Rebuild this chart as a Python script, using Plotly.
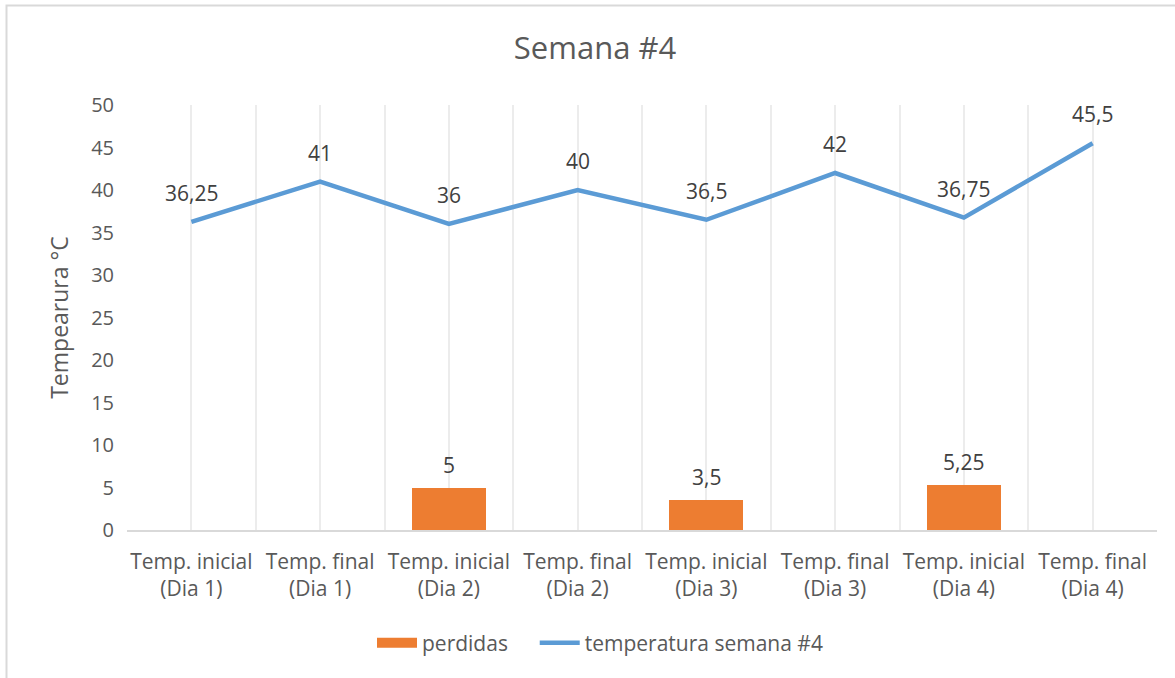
import plotly.graph_objects as go

# ── Data ──────────────────────────────────────────────────────────────────────
categories = [
    "Temp. inicial<br>(Dia 1)", "Temp. final<br>(Dia 1)",
    "Temp. inicial<br>(Dia 2)", "Temp. final<br>(Dia 2)",
    "Temp. inicial<br>(Dia 3)", "Temp. final<br>(Dia 3)",
    "Temp. inicial<br>(Dia 4)", "Temp. final<br>(Dia 4)",
]
temperatura = [36.25, 41, 36, 40, 36.5, 42, 36.75, 45.5]
perdidas = [None, None, 5, None, 3.5, None, 5.25, None]
y_ticks = [0, 5, 10, 15, 20, 25, 30, 35, 40, 45, 50]

# ── Style ─────────────────────────────────────────────────────────────────────
FONT = "'Open Sans', sans-serif"
TXT = "#595959"
LBL = "#404040"
GRID = "#ececec"
ORANGE = "#ED7D31"
BLUE = "#5B9BD5"

W, H = 1175, 678
ML, MR, MT, MB = 127, 18, 105, 148
pw, ph = W - ML - MR, H - MT - MB


def fmt(v):
    return f"{v:g}".replace(".", ",")


xs = list(range(len(categories)))

fig = go.Figure()
fig.add_trace(go.Bar(
    x=xs, y=perdidas, name="perdidas",
    marker=dict(color=ORANGE, line=dict(width=0)),
    width=0.575, showlegend=False,
))
# legend proxy so the key is a wide block like Excel's
fig.add_trace(go.Scatter(
    x=[None], y=[None], name="perdidas" + "\u00a0" * 4, mode="lines",
    line=dict(color=ORANGE, width=14),
))
fig.add_trace(go.Scatter(
    x=xs, y=temperatura, name="temperatura semana #4",
    mode="lines",
    line=dict(color=BLUE, width=4.5),
))

# data labels (Excel-style, above each point)
for x, v in zip(xs, temperatura):
    fig.add_annotation(x=x, y=v, text=fmt(v), showarrow=False,
                       yshift=29, font=dict(size=21, color=LBL, family=FONT))
for x, v in zip(xs, perdidas):
    if v is None:
        continue
    fig.add_annotation(x=x, y=v, text=fmt(v), showarrow=False,
                       yshift=23, font=dict(size=21, color=LBL, family=FONT))

# chart border
fig.add_shape(type="rect", xref="paper", yref="paper",
              x0=(6.5 - ML) / pw, x1=(W + 5 - ML) / pw,
              y0=(H - MB - (H + 5)) / ph, y1=(H - MB - 5.5) / ph,
              line=dict(color="#d9d9d9", width=2), layer="below")

fig.update_layout(
    width=W, height=H,
    margin=dict(l=ML, r=MR, t=MT, b=MB),
    paper_bgcolor="white", plot_bgcolor="white",
    font=dict(family=FONT, color=TXT, size=21),
    title=dict(text="Semana #4", x=595 / W, xanchor="center",
               y=1 - 48 / H, yanchor="middle",
               font=dict(size=31, color=TXT, family=FONT)),
    showlegend=True,
    legend=dict(orientation="h", x=(600 - ML) / pw, xanchor="center",
                y=-(643 - 530) / ph, yanchor="middle",
                font=dict(size=21, color=TXT), itemwidth=40,
                traceorder="normal"),
    bargap=0,
)
fig.update_xaxes(
    range=[-0.5, len(categories) - 0.5],
    tickvals=xs, ticktext=categories,
    showgrid=True, gridcolor=GRID, gridwidth=1.5,
    minor=dict(tick0=0.5, dtick=1, showgrid=True, gridcolor=GRID, gridwidth=1.5),
    showline=True, linecolor="#d9d9d9", linewidth=1.5,
    ticks="", tickfont=dict(size=21, color=TXT), zeroline=False,
    ticklabelstandoff=12, automargin=False,
)
fig.update_yaxes(
    range=[0, 50], tickvals=y_ticks,
    showgrid=False, zeroline=False, showline=False, ticks="",
    tickfont=dict(size=20, color=TXT), ticklabelstandoff=12,
    title=dict(text="Tempearura °C", font=dict(size=23, color=TXT), standoff=16),
    automargin=False,
)

fig.write_html("out.html", config={"displayModeBar": False},
               post_script="document.body.style.margin='0';")
